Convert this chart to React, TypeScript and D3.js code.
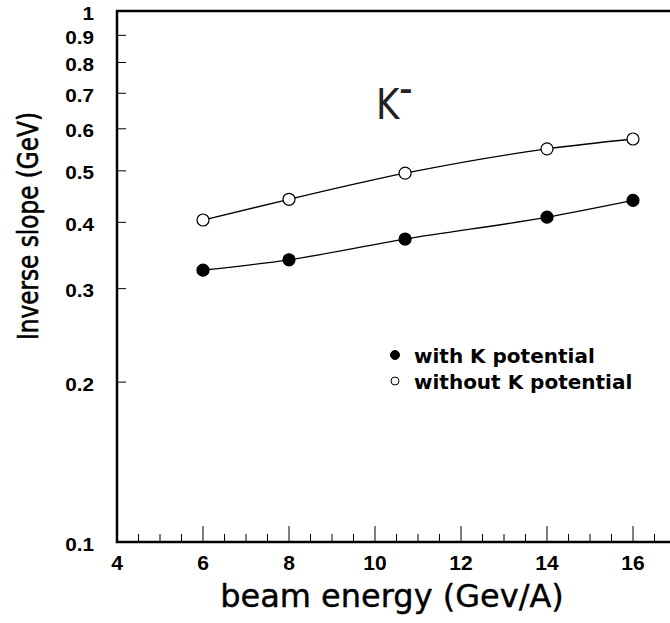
// Inverse slope vs beam energy chart (K-) with D3
import React, { useEffect, useRef } from 'react';
import * as d3 from 'd3';

const energies = [6, 8, 10.7, 14, 16];
const withPotential = [0.325, 0.34, 0.372, 0.409, 0.44];
const withoutPotential = [0.404, 0.442, 0.495, 0.55, 0.574];
const xMajorTicks = [4, 6, 8, 10, 12, 14, 16];
const yTicks = [0.1, 0.2, 0.3, 0.4, 0.5, 0.6, 0.7, 0.8, 0.9, 1];
const legendLabels = ['with K potential', 'without K potential'];

const App = () => {
  const svgRef = useRef<SVGSVGElement>(null);

  useEffect(() => {
    if (!svgRef.current) return;
    const svg = d3.select(svgRef.current);
    svg.selectAll('*').remove();

    const left = 117, top = 11, bottom = 542;
    const x = d3.scaleLinear().domain([4, 17]).range([left, left + 13 * 43]);
    const y = d3.scaleLog().domain([0.1, 1]).range([bottom, top]);

    const tickFont = "'Liberation Sans', Arial, sans-serif";
    const titleFont = "'DejaVu Sans', sans-serif";

    // frame (left, bottom, top)
    svg.append('path')
      .attr('d', `M${x(17)},${y(1)}H${x(4)}V${y(0.1)}H${x(17)}`)
      .attr('fill', 'none')
      .attr('stroke', '#000')
      .attr('stroke-width', 2.5);

    // x ticks
    const minor = d3.range(4.5, 17, 0.5).filter(v => v % 2 !== 0);
    svg.append('g').selectAll('line.minor')
      .data(minor).enter().append('line')
      .attr('x1', d => x(d)).attr('x2', d => x(d))
      .attr('y1', bottom).attr('y2', bottom - 8)
      .attr('stroke', '#000').attr('stroke-width', 1);
    svg.append('g').selectAll('line.major')
      .data(xMajorTicks.slice(1)).enter().append('line')
      .attr('x1', d => x(d)).attr('x2', d => x(d))
      .attr('y1', bottom).attr('y2', bottom - 16)
      .attr('stroke', '#000').attr('stroke-width', 1);
    svg.append('g').selectAll('text')
      .data(xMajorTicks).enter().append('text')
      .attr('x', d => x(d)).attr('y', 569.5)
      .attr('text-anchor', 'middle')
      .attr('font-family', tickFont).attr('font-weight', 'bold')
      .attr('font-size', 21)
      .text(d => d);

    // y ticks
    svg.append('g').selectAll('line')
      .data(yTicks.slice(1, -1)).enter().append('line')
      .attr('x1', left).attr('x2', left + 9)
      .attr('y1', d => y(d)).attr('y2', d => y(d))
      .attr('stroke', '#000').attr('stroke-width', 1);
    svg.append('g').selectAll('text')
      .data(yTicks).enter().append('text')
      .attr('transform', d => `translate(94,${y(d) + 8.5}) scale(1.15,1)`)
      .attr('text-anchor', 'end')
      .attr('font-family', tickFont).attr('font-weight', 'bold')
      .attr('font-size', 18)
      .text(d => String(d));

    // curves
    const line = d3.line<number>()
      .x((_, i) => x(energies[i]))
      .y(d => y(d))
      .curve(d3.curveMonotoneX);
    [withPotential, withoutPotential].forEach((series, si) => {
      svg.append('path')
        .attr('d', line(series) || '')
        .attr('fill', 'none')
        .attr('stroke', '#000')
        .attr('stroke-width', 1.3);
      svg.append('g').selectAll('circle')
        .data(series).enter().append('circle')
        .attr('cx', (_, i) => x(energies[i]))
        .attr('cy', d => y(d))
        .attr('r', 6)
        .attr('fill', si === 0 ? '#000' : '#fff')
        .attr('stroke', '#000')
        .attr('stroke-width', 1.2);
    });

    // K- label
    const k = svg.append('text')
      .attr('transform', 'translate(376,119) scale(0.85,1)')
      .attr('font-family', titleFont)
      .attr('font-size', 42)
      .attr('fill', '#222');
    k.append('tspan').text('K');
    k.append('tspan').attr('dy', -20).attr('font-size', 30).attr('font-weight', 'bold').text('–');

    // legend
    legendLabels.forEach((label, i) => {
      const ly = 355 + i * 26;
      svg.append('circle')
        .attr('cx', 395).attr('cy', ly)
        .attr('r', i === 0 ? 4.5 : 4)
        .attr('fill', i === 0 ? '#000' : '#fff')
        .attr('stroke', '#000').attr('stroke-width', 1);
      svg.append('text')
        .attr('x', 414).attr('y', ly + 8)
        .attr('font-family', titleFont).attr('font-weight', 'bold')
        .attr('font-size', 20)
        .text(label);
    });

    // axis titles
    svg.append('text')
      .attr('x', 392).attr('y', 607)
      .attr('text-anchor', 'middle')
      .attr('font-family', titleFont)
      .attr('font-size', 32)
      .attr('stroke', '#000').attr('stroke-width', 0.4)
      .text('beam energy (Gev/A)');
    svg.append('text')
      .attr('transform', 'translate(38,226) rotate(-90) scale(0.8,1)')
      .attr('text-anchor', 'middle')
      .attr('font-family', titleFont)
      .attr('font-size', 29)
      .attr('stroke', '#000').attr('stroke-width', 0.6)
      .text('Inverse slope (GeV)');
  }, []);

  return (
    <svg
      ref={svgRef}
      width={670}
      height={623}
      style={{ position: 'absolute', left: 0, top: 0, background: '#fff' }}
    />
  );
};

export default App;
